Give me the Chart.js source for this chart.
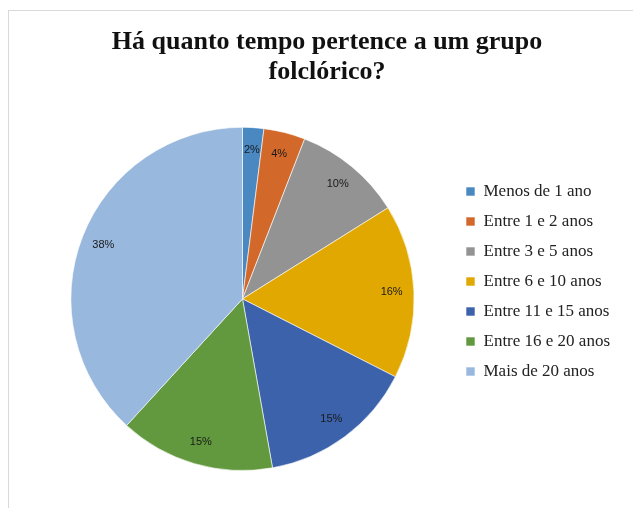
<!DOCTYPE html>
<html>
<head>
<meta charset="utf-8">
<script src="https://cdn.jsdelivr.net/npm/chart.js@4"></script>
<style>
  html, body { margin: 0; padding: 0; background: #fff; }
  #wrap { position: relative; width: 633px; height: 508px; overflow: hidden; }
  #frame { position: absolute; left: 8px; top: 10px; width: 700px; height: 600px;
           border-top: 1px solid #d9d9d9; border-left: 1px solid #d9d9d9; }
  canvas { position: absolute; left: 0; top: 0; }
</style>
</head>
<body>
<div id="wrap">
  <div id="frame"></div>
  <canvas id="pieChart" width="633" height="508"></canvas>
</div>
<script>
// Data
const categories = ['Menos de 1 ano', 'Entre 1 e 2 anos', 'Entre 3 e 5 anos', 'Entre 6 e 10 anos',
                    'Entre 11 e 15 anos', 'Entre 16 e 20 anos', 'Mais de 20 anos'];
const shares = [2.0, 3.9, 10.2, 16.4, 14.7, 14.6, 38.2];
const percentLabels = ['2%', '4%', '10%', '16%', '15%', '15%', '38%'];
const sliceColors = ['#4a88c2', '#d2692a', '#939393', '#e0a800', '#3b62aa', '#62993e', '#98b8de'];

// draws the % text inside each slice, near the outer edge
const sliceLabels = {
    id: 'sliceLabels',
    afterDatasetsDraw(chart) {
        const ctx = chart.ctx;
        const meta = chart.getDatasetMeta(0);
        ctx.save();
        ctx.font = '11px "Liberation Sans", Arial, sans-serif';
        ctx.fillStyle = '#1a1a1a';
        ctx.textAlign = 'center';
        ctx.textBaseline = 'middle';
        meta.data.forEach((arc, i) => {
            const mid = (arc.startAngle + arc.endAngle) / 2;
            const r = arc.outerRadius * 0.87;
            ctx.fillText(percentLabels[i], arc.x + Math.cos(mid) * r, arc.y + Math.sin(mid) * r);
        });
        ctx.restore();
    }
};

// nudge legend and title independently of the pie area
const boxShift = {
    id: 'boxShift',
    afterLayout(chart) {
        const dx = 463 - (chart.legend.left + 10);
        chart.legend.top += 46;
        chart.legend.bottom += 46;
        chart.legend.left += dx;
        chart.legend.right += dx;
        chart.titleBlock.left += 1;
        chart.titleBlock.right += 1;
    }
};

document.addEventListener('DOMContentLoaded', function() {
    const ctx = document.getElementById('pieChart').getContext('2d');

    new Chart(ctx, {
        type: 'pie',
        data: {
            labels: categories,
            datasets: [{
                data: shares,
                backgroundColor: sliceColors,
                borderColor: 'rgba(255,255,255,0.6)',
                borderWidth: 1
            }]
        },
        options: {
            responsive: false,
            animation: false,
            layout: {
                padding: { left: 33, right: 14, top: 0, bottom: 37 }
            },
            plugins: {
                title: {
                    display: true,
                    text: ['Há quanto tempo pertence a um grupo', 'folclórico?'],
                    color: '#111',
                    font: { family: '"Liberation Serif", "DejaVu Serif", serif', size: 26, weight: 'bold', lineHeight: 1.15 },
                    padding: { top: 27, bottom: 40 }
                },
                legend: {
                    position: 'right',
                    labels: {
                        color: '#222',
                        boxWidth: 9,
                        boxHeight: 9,
                        padding: 13,
                        font: { family: '"Liberation Serif", "DejaVu Serif", serif', size: 17 }
                    }
                },
                tooltip: { enabled: false }
            }
        },
        plugins: [sliceLabels, boxShift]
    });
});
</script>
</body>
</html>
